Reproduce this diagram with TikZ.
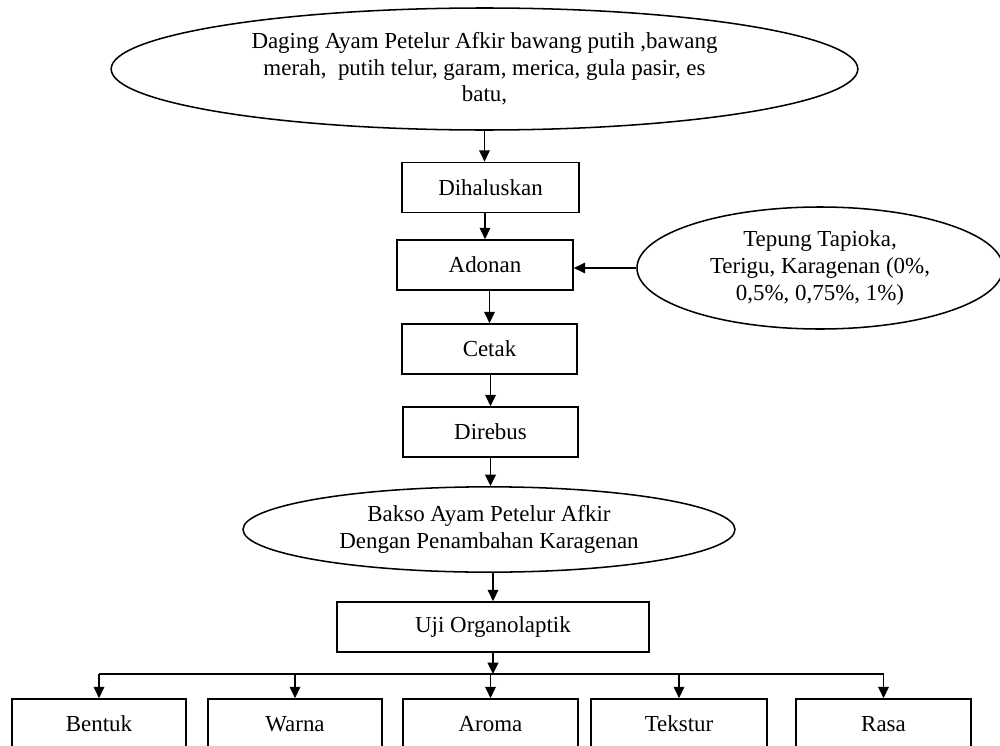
\documentclass[tikz,border=0pt]{standalone}
\usepackage{fontspec}
\setmainfont{Liberation Serif}
\usetikzlibrary{shapes.geometric,arrows.meta}
\begin{document}
\begin{tikzpicture}[x=0.75pt,y=-0.75pt,
  every node/.style={font=\fontsize{17.2}{20}\selectfont, text=black, inner sep=0pt},
  procbox/.style={draw, line width=1.3pt, rectangle, minimum height=37.5pt, align=center},
  oval/.style={draw, line width=1.15pt, ellipse, align=center},
  arr/.style={line width=1.2pt, -{Triangle[length=8.5pt,width=8pt]}},
  bus/.style={line width=1.3pt}]
\useasboundingbox (0,0) rectangle (1000,746);
\clip (0,0) rectangle (1000,746);
\fill[white] (0,0) rectangle (1000,746);

\node[oval, minimum width=560pt, minimum height=91.5pt] (top) at (484.5,69)
  {Daging Ayam Petelur Afkir bawang putih ,bawang\\merah,\ \ putih telur, garam, merica, gula pasir, es\\batu,};
\node[procbox, minimum width=132.75pt] (dih) at (490.5,187.5) {Dihaluskan};
\node[procbox, minimum width=132pt] (ado) at (485,265) {Adonan};
\node[oval, minimum width=274.5pt, minimum height=91.5pt] (tep) at (820,268)
  {Tepung Tapioka,\\Terigu, Karagenan (0\%,\\0,5\%, 0,75\%, 1\%)};
\node[procbox, minimum width=131.25pt] (cet) at (489.5,349) {Cetak};
\node[procbox, minimum width=131.25pt] (dir) at (490.5,432) {Direbus};
\node[oval, minimum width=369pt, minimum height=64pt] (bak) at (489,529.5)
  {Bakso Ayam Petelur Afkir\\Dengan Penambahan Karagenan};
\node[procbox, minimum width=234pt] (uji) at (493,627) {Uji Organolaptik};

\node[procbox, minimum width=130.5pt] (ben) at (99,724) {Bentuk};
\node[procbox, minimum width=130.5pt] (war) at (295,724) {Warna};
\node[procbox, minimum width=131.25pt] (aro) at (490.5,724) {Aroma};
\node[procbox, minimum width=132pt] (tek) at (679,724) {Tekstur};
\node[procbox, minimum width=131.25pt] (ras) at (883.5,724) {Rasa};

\coordinate (busy) at (0,674);

\draw[arr] (top.south) -- (top.south |- dih.north);
\draw[arr] (ado.north |- dih.south) -- (ado.north);
\draw[arr] (tep.west) -- (tep.west -| ado.east);
\draw[arr] (cet.north |- ado.south) -- (cet.north);
\draw[arr] (dir.north |- cet.south) -- (dir.north);
\draw[arr] (dir.south) -- (dir.south |- bak.north);
\draw[arr] (uji.north |- bak.south) -- (uji.north);
\draw[arr] (uji.south) -- (uji.south |- busy);
\draw[bus] (ben.north |- busy) -- (ras.north |- busy);
\draw[arr] (ben.north |- busy) -- (ben.north);
\draw[arr] (war.north |- busy) -- (war.north);
\draw[arr] (aro.north |- busy) -- (aro.north);
\draw[arr] (tek.north |- busy) -- (tek.north);
\draw[arr] (ras.north |- busy) -- (ras.north);
\end{tikzpicture}
\end{document}
